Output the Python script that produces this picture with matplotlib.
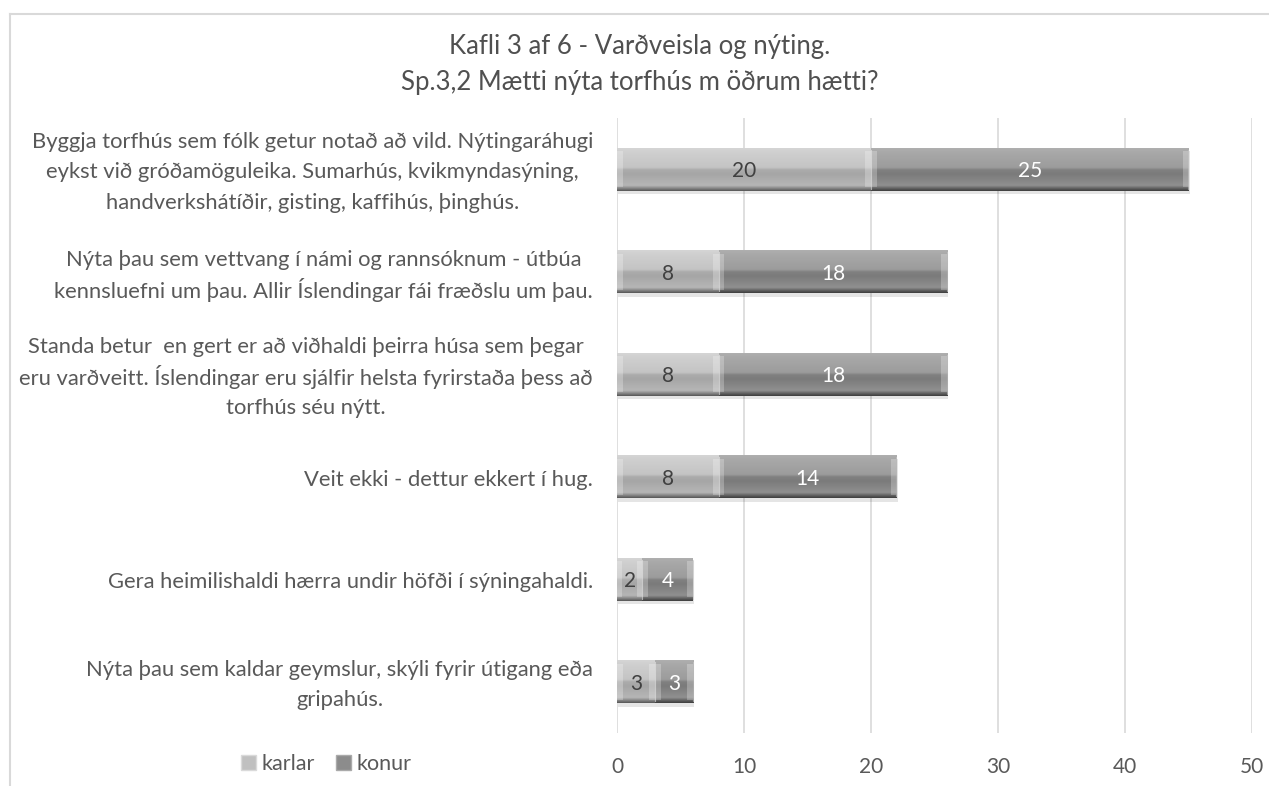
import numpy as np
import matplotlib
matplotlib.use("Agg")
import matplotlib.pyplot as plt
from matplotlib.colors import LinearSegmentedColormap
from matplotlib.patches import Rectangle
from matplotlib.lines import Line2D

plt.rcParams['font.family'] = ['Lato', 'DejaVu Sans']

categories = [
    "Byggja torfhús sem fólk getur notað að vild. Nýtingaráhugi\neykst við gróðamöguleika. Sumarhús, kvikmyndasýning,\nhandverkshátíðir, gisting, kaffihús, þinghús.",
    "Nýta þau sem vettvang í námi og rannsóknum - útbúa\nkennsluefni um þau. Allir Íslendingar fái fræðslu um þau.",
    "Standa betur  en gert er að viðhaldi þeirra húsa sem þegar\neru varðveitt. Íslendingar eru sjálfir helsta fyrirstaða þess að\ntorfhús séu nýtt.",
    "Veit ekki - dettur ekkert í hug.",
    "Gera heimilishaldi hærra undir höfði í sýningahaldi.",
    "Nýta þau sem kaldar geymslur, skýli fyrir útigang eða\ngripahús.",
]
karlar = [20, 8, 8, 8, 2, 3]
konur = [25, 18, 18, 14, 4, 3]
series_names = ["karlar", "konur"]
xticks = [0, 10, 20, 30, 40, 50]
title_lines = ["Kafli 3 af 6 - Varðveisla og nýting.",
               "Sp.3,2 Mætti nýta torfhús m öðrum hætti?"]

W, H = 1269, 786
fig = plt.figure(figsize=(W / 100, H / 100), dpi=100)
fig.patch.set_facecolor('white')

ax = fig.add_axes([617 / W, 1 - 733 / H, (1252 - 617) / W, (733 - 118) / H])
ax.set_facecolor('none')

n = len(categories)
y = np.arange(n)[::-1].astype(float)
h = 0.42

cm_k = LinearSegmentedColormap.from_list('k', [
    (0.0, '#d6d6d6'), (0.12, '#cfcfcf'), (0.46, '#c4c4c4'), (0.52, '#ababab'),
    (0.62, '#a6a6a6'), (0.88, '#b6b6b6'), (0.94, '#8a8a8a'), (1.0, '#5a5a5a')])
cm_c = LinearSegmentedColormap.from_list('c', [
    (0.0, '#b0b0b0'), (0.12, '#a8a8a8'), (0.46, '#9c9c9c'), (0.52, '#808080'),
    (0.62, '#7b7b7b'), (0.88, '#909090'), (0.94, '#666666'), (1.0, '#404040')])

ax.set_xlim(0, 50)
ax.set_ylim(-0.5, n - 0.5)

grad = np.linspace(0, 1, 64).reshape(-1, 1)


def draw_series(vals, left, cmap, edge_col):
    bars = ax.barh(y, vals, left=left, height=h, color='#b0b0b0', zorder=3,
                   linewidth=0)
    for p in bars:
        x0, y0, w, hh = p.get_x(), p.get_y(), p.get_width(), p.get_height()
        ax.add_patch(Rectangle((x0 + 0.1, y0 - 0.035), w, hh, facecolor='black',
                               alpha=0.10, linewidth=0, zorder=2))
        im = ax.imshow(grad, cmap=cmap, aspect='auto', zorder=4,
                       extent=(x0, x0 + w, y0, y0 + hh), origin='upper',
                       interpolation='bilinear')
        im.set_clip_path(p)
        cap = min(0.45, w * 0.2)
        for xe in (x0, x0 + w - cap):
            ax.add_patch(Rectangle((xe, y0 + hh * 0.08), cap, hh * 0.84,
                                   facecolor='white', alpha=0.25, linewidth=0,
                                   zorder=5))
        ax.plot([x0 + w, x0 + w], [y0 + hh * 0.05, y0 + hh * 0.95],
                color=edge_col, lw=0.8, zorder=6, alpha=0.6)
    return bars


b1 = draw_series(karlar, 0, cm_k, '#e8e8e8')
b2 = draw_series(konur, karlar, cm_c, '#c8c8c8')

for bars, vals, col in ((b1, karlar, '#404040'), (b2, konur, 'white')):
    for p, v in zip(bars, vals):
        ax.text(p.get_x() + p.get_width() / 2, p.get_y() + p.get_height() / 2,
                str(v), ha='center', va='center_baseline', fontsize=15,
                color=col, zorder=8)

ax.set_xticks(xticks)
ax.set_xticklabels([str(t) for t in xticks], fontsize=15, color='#595959')
ax.tick_params(axis='x', length=0, pad=17)
ax.set_yticks(y)
ax.set_yticklabels([])
ax.tick_params(axis='y', length=0)
ax.grid(axis='x', color='#d9d9d9', linewidth=1.2, zorder=0)
ax.set_axisbelow(True)
for s in ax.spines.values():
    s.set_visible(False)

renderer = fig.canvas.get_renderer()


def block_text(lines, x_px, y_px, pitch, fontsize, color, anchor):
    """Draw lines centred on each other with a fixed line pitch (pixels).
    anchor='right': block's right edge at x_px; 'center': block centred."""
    texts = [fig.text(0, 0, s, fontsize=fontsize, color=color, ha='center',
                      va='center_baseline') for s in lines]
    widths = [t.get_window_extent(renderer).width for t in texts]
    bw = max(widths)
    xc = x_px - bw / 2 if anchor == 'right' else x_px
    k = len(lines)
    for i, t in enumerate(texts):
        yy = y_px + ((k - 1) / 2 - i) * pitch
        t.set_position((xc / W, yy / H))
    return texts


ax_left_px = ax.transAxes.transform((0, 0))[0]
for yi, lab in zip(y, categories):
    ypx = ax.transData.transform((0, yi))[1]
    block_text(lab.split('\n'), ax_left_px - 24, ypx - 1, 30.5, 15.8,
               '#595959', 'right')

block_text(title_lines, 640, H - 62, 36, 18.5, '#505050', 'center')

fig.add_artist(Line2D([10 / W, 1], [1 - 14 / H, 1 - 14 / H], color='#d9d9d9',
                      lw=1.5, transform=fig.transFigure))
fig.add_artist(Line2D([10 / W, 10 / W], [0, 1 - 14 / H], color='#d9d9d9',
                      lw=1.5, transform=fig.transFigure))

handles = [Rectangle((0, 0), 1, 1, facecolor='#c0c0c0', edgecolor='#dadada', lw=1),
           Rectangle((0, 0), 1, 1, facecolor='#8c8c8c', edgecolor='#aaaaaa', lw=1)]
leg = fig.legend(handles, series_names, loc='center',
                 bbox_to_anchor=(326 / W, 1 - 764 / H), ncol=2, frameon=False,
                 fontsize=15.5, handlelength=0.7, handleheight=0.7,
                 handletextpad=0.25, columnspacing=1.0)
for t in leg.get_texts():
    t.set_color('#595959')

fig.savefig('out.png', dpi=100, facecolor='white')
